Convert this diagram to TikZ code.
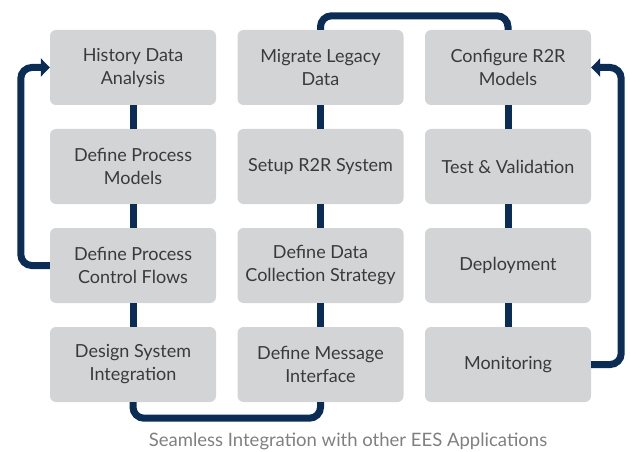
\documentclass[tikz,border=0pt]{standalone}
\usepackage{fontspec}
\setmainfont{Lato}
\usetikzlibrary{arrows.meta, positioning}
\definecolor{boxgray}{RGB}{211,212,214}
\definecolor{textgray}{RGB}{58,58,60}
\definecolor{navy}{RGB}{11,44,85}
\definecolor{capgray}{RGB}{128,128,130}

\begin{document}
\begin{tikzpicture}[x=1pt,y=-1pt]
    \tikzstyle{task}=[fill=boxgray, rounded corners=6pt, minimum width=166pt, minimum height=75pt, align=center, text=textgray, font=\fontsize{18}{23}\selectfont, inner sep=0pt];
    \tikzstyle{link}=[line width=7pt, draw=navy, rounded corners=11pt];
    \tikzstyle{tip}=[-{Triangle[length=9pt,width=18pt]}];

    \useasboundingbox (0,0) rectangle (630,452);

    \foreach \name/\col/\row/\txt in {hist/0/0/History Data\\Analysis,
                                      procmod/0/1/Define Process\\Models,
                                      ctrlflow/0/2/Define Process\\Control Flows,
                                      sysint/0/3/Design System\\Integration,
                                      migrate/1/0/Migrate Legacy\\Data,
                                      setup/1/1/Setup R2R System,
                                      collect/1/2/Define Data\\Collection Strategy,
                                      message/1/3/Define Message\\Interface,
                                      config/2/0/Configure R2R\\Models,
                                      test/2/1/Test \& Validation,
                                      deploy/2/2/Deployment,
                                      monitor/2/3/Monitoring} {
        \node[task] (\name) at (133+187.5*\col, 67.5+99*\row) {\txt};
    }

    % links inside the columns
    \draw[link] (hist) -- (procmod);
    \draw[link] (procmod) -- (ctrlflow);
    \draw[link] (ctrlflow) -- (sysint);
    \draw[link] (migrate) -- (setup);
    \draw[link] (setup) -- (collect);
    \draw[link] (collect) -- (message);
    \draw[link] (config) -- (test);
    \draw[link] (test) -- (deploy);
    \draw[link] (deploy) -- (monitor);

    % loops between the columns
    \draw[link, tip] (ctrlflow.west) -- ++(-29,0) |- (hist.west);
    \draw[link] (sysint.south) -- ++(0,16) -| (message.south);
    \draw[link] (migrate.north) -- ++(0,-14) -| (config.north);
    \draw[link, tip] (monitor.east) -- ++(30,0) |- (config.east);

    \node[text=capgray, font=\fontsize{18.5}{22}\selectfont] (caption) at (348,441) {Seamless Integration with other EES Applications};
\end{tikzpicture}
\end{document}
